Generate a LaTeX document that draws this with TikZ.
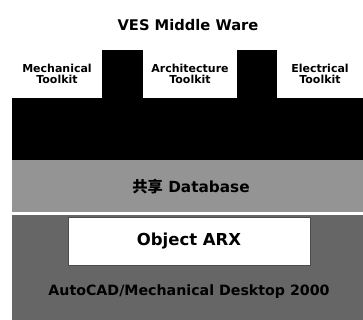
\documentclass[tikz,border=0pt]{standalone}
\usepackage{fontspec}
\setmainfont{DejaVu Sans}
\newfontfamily\cjk{Noto Sans CJK SC}
\usetikzlibrary{positioning}

\begin{document}
\begin{tikzpicture}[
    x=1pt, y=-1pt,
    kit/.style={fill=white, minimum height=48pt, align=center, font=\bfseries\fontsize{11}{11.5}\selectfont, inner sep=0pt},
    layer/.style={anchor=north west, inner sep=0pt, outer sep=0pt},
    lbl/.style={font=\bfseries\fontsize{14.2}{16}\selectfont}
]
\useasboundingbox (0,0) rectangle (363,320);

\node[font=\bfseries\fontsize{14.7}{16}\selectfont] (title) at (188,25) {VES Middle Ware};

% layers
\node[layer, fill=black, minimum width=351pt, minimum height=110pt] (mw) at (12,50) {};
\node[layer, fill=black!42, minimum width=351pt, minimum height=53pt] (db) at (12,160) {};
\node[layer, fill=black!60, minimum width=351pt, minimum height=105pt] (cad) at (12,215) {};
\draw[white, line width=1.5pt] (db.south west) -- (db.south east);

% toolkits
\node[kit, minimum width=90pt] (mech) at (57,74) {Mechanical\\Toolkit};
\node[kit, minimum width=94pt] (arch) at (190,74) {Architecture\\Toolkit};
\node[kit, minimum width=86pt] (elec) at (320,74) {Electrical\\Toolkit};

\node[lbl, font=\bfseries\fontsize{15.3}{17}\selectfont] (dbtext) at (191,187) {{\cjk 共享} Database};
\node[draw=black!70, fill=white, minimum width=242pt, minimum height=48pt, font=\bfseries\fontsize{16.5}{18}\selectfont] (arx) at (189,241) {Object ARX};
\node[lbl] (cadtext) at (189,292) {AutoCAD/Mechanical Desktop 2000};
\end{tikzpicture}
\end{document}
